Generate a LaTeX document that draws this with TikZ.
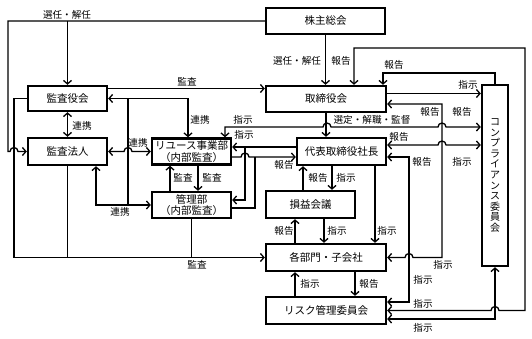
\documentclass[tikz,border=0pt]{standalone}
\usepackage{fontspec}
\setmainfont{Noto Sans CJK JP}
\usetikzlibrary{arrows.meta}

\begin{document}
\begin{tikzpicture}[x=1pt, y=1pt,
    >={Straight Barb[length=3.5pt,width=8pt]},
    box/.style={draw, line width=2.4pt, inner sep=1pt, align=center,
                font=\fontsize{10.5}{11.5}\selectfont},
    link/.style={draw, line width=1.3pt},
    lbl/.style={font=\fontsize{9.6}{10}\selectfont, inner sep=0pt}
  ]
  \useasboundingbox[fill=white] (0,0) rectangle (532,-338);

  \node[box, minimum width=119pt, minimum height=26pt] (gm) at (325.5,-21) {株主総会};
  \node[box, minimum width=79pt, minimum height=25pt] (asb) at (67.5,-98.5) {監査役会};
  \node[box, minimum width=79pt, minimum height=27pt] (auditor) at (67.5,-151.5) {監査法人};
  \node[box, minimum width=79pt, minimum height=26pt] (reuse) at (191.5,-151.5) {リユース事業部\\（内部監査）};
  \node[box, minimum width=79pt, minimum height=26pt] (admin) at (191.5,-205) {管理部\\（内部監査）};
  \node[box, minimum width=120pt, minimum height=26pt] (board) at (326,-99) {取締役会};
  \node[box, minimum width=89pt, minimum height=27pt] (ceo) at (341.5,-151.5) {代表取締役社長};
  \node[box, minimum width=89pt, minimum height=27pt] (pl) at (310.5,-204.5) {損益会議};
  \node[box, minimum width=120pt, minimum height=27pt] (dept) at (326,-257.5) {各部門・子会社};
  \node[box, minimum width=120pt, minimum height=27pt] (risk) at (326,-310.5) {リスク管理委員会};
  \node[box, minimum width=26pt, minimum height=181pt, font=\fontsize{10}{10.6}\selectfont]
    (comp) at (495,-175.5) {コ\\ン\\プ\\ラ\\イ\\ア\\ン\\ス\\委\\員\\会};

  \coordinate (bE1) at ([yshift=5.5pt]board.east);
  \coordinate (bE2) at ([yshift=-5pt]board.east);
  \coordinate (cE1) at ([yshift=6.5pt]ceo.east);
  \coordinate (cE2) at ([yshift=-5.5pt]ceo.east);
  \coordinate (cW1) at ([yshift=4.5pt]ceo.west);
  \coordinate (cW2) at ([yshift=-5.5pt]ceo.west);
  \coordinate (rE1) at ([yshift=8.5pt]risk.east);
  \coordinate (rE3) at ([yshift=-8.5pt]risk.east);
  \coordinate (uE1) at ([yshift=4.5pt]reuse.east);
  \coordinate (uE2) at ([yshift=-5.5pt]reuse.east);
  \coordinate (mE1) at ([yshift=5pt]admin.east);
  \coordinate (mE2) at ([yshift=-3pt]admin.east);
  \coordinate (aE1) at ([yshift=10pt]asb.east);

  % shareholders meeting
  \draw[link,->] (gm.west) -| (8,-151.5) -- (10,-151.5) arc[start angle=180,end angle=0,radius=4] -- (auditor.west);
  \draw[link,->] (asb.north |- gm.west) -- (asb.north);
  \node[lbl] at (67,-15) {選任・解任};
  \draw[link,->] (gm.south) -- (gm.south |- board.north);
  \node[lbl] at (297,-61) {選任・解任};
  \node[lbl] at (341,-61) {報告};

  % right side loops
  \draw[link,<->] (risk.east) -- (491,-310.5) arc[start angle=180,end angle=0,radius=4] -- (525,-310.5) |- (354,-48) -- (354,-48 |- board.north);
  \node[lbl] at (423,-304) {指示};
  \draw[link,->] (comp.north) |- (383,-73) -- (383,-73 |- board.north);
  \node[lbl] at (394,-65) {報告};
  \draw[link,->] (bE1) -- (bE1 -| comp.west);
  \node[lbl] at (468,-85) {指示};
  \draw[link,<->] (bE2) -| (442,-257.5) -- (413,-257.5) arc[start angle=0,end angle=180,radius=4] -- (dept.east);
  \node[lbl] at (430,-112) {報告};
  \node[lbl] at (443,-265) {指示};
  \draw[link,<->] (225,-127 |- reuse.north) -- (225,-127) -- (323,-127) arc[start angle=180,end angle=0,radius=4]
    -- (438,-127) arc[start angle=180,end angle=0,radius=4] -- (225,-127 -| comp.west);
  \node[lbl] at (243,-120) {指示};
  \node[lbl] at (462,-112) {報告};
  \draw[link,->] (board.south) -- (board.south |- ceo.north);
  \node[lbl] at (372,-120) {選定・解職・監督};
  \draw[link,<->] (cE1) -- (438,-145) arc[start angle=180,end angle=0,radius=4] -- (cE1 -| comp.west);
  \node[lbl] at (399,-137) {報告};
  \node[lbl] at (462,-162) {指示};
  \draw[link,<->] (cE2) -| (409,-302) -- (rE1);
  \node[lbl] at (422,-162) {報告};
  \node[lbl] at (423,-280) {指示};
  \draw[link,<->] (rE3) -| (comp.south);
  \node[lbl] at (423,-328) {指示};

  % president and internal audit
  \draw[link,->] (cW1) -- (uE1);
  \draw[link,->] (245,-147) |- (mE1);
  \node[lbl] at (244,-135) {指示};
  \draw[link,->] (uE2) -- (241,-157) arc[start angle=180,end angle=0,radius=4] -- (cW2);
  \draw[link] (mE2) -| (255,-157);
  \node[lbl] at (284,-165) {報告};

  % audit side
  \draw[link,->] (aE1) -- (aE1 -| board.west);
  \node[lbl] at (187,-82) {監査};
  \draw[link,<->] (asb.east) -| (188,-151.5 |- reuse.north);
  \draw[link] (128,-98.5) -- (128,-205);
  \node[lbl] at (200,-120) {連携};
  \draw[link,<->] (auditor.east) -- (124,-151.5) arc[start angle=180,end angle=0,radius=4] -- (reuse.west);
  \node[lbl] at (138,-143) {連携};
  \draw[link,<->] (96,-151.5 |- auditor.south) |- (admin.west);
  \node[lbl] at (120,-212) {連携};
  \draw[link,<->] (asb.south) -- (auditor.north);
  \node[lbl] at (82,-126) {連携};
  \draw[link,->] (asb.west) -| (14,-257.5) -- (dept.west);
  \draw[link] (auditor.south) -- (auditor.south |- dept.west);
  \draw[link] (admin.south) -- (admin.south |- dept.west);
  \node[lbl] at (197,-265) {監査};
  \draw[link,->] (170,0 |- admin.north) -- (170,0 |- reuse.south);
  \draw[link,->] (198,0 |- reuse.south) -- (198,0 |- admin.north);
  \node[lbl] at (183,-178) {監査};
  \node[lbl] at (212,-178) {監査};

  % reporting chain
  \draw[link,->] (303,0 |- pl.north) -- (303,0 |- ceo.south);
  \draw[link,->] (332,0 |- ceo.south) -- (332,0 |- pl.north);
  \node[lbl] at (318,-178) {報告};
  \node[lbl] at (346,-178) {指示};
  \draw[link,->] (375,0 |- ceo.south) -- (375,0 |- dept.north);
  \node[lbl] at (387,-231) {指示};
  \draw[link,->] (295,0 |- dept.north) -- (295,0 |- pl.south);
  \draw[link,->] (324,0 |- pl.south) -- (324,0 |- dept.north);
  \node[lbl] at (284,-231) {報告};
  \node[lbl] at (337,-231) {指示};
  \draw[link,->] (295,0 |- risk.north) -- (295,0 |- dept.south);
  \draw[link,->] (355,0 |- dept.south) -- (355,0 |- risk.north);
  \node[lbl] at (310,-284) {指示};
  \node[lbl] at (369,-284) {報告};
\end{tikzpicture}
\end{document}
